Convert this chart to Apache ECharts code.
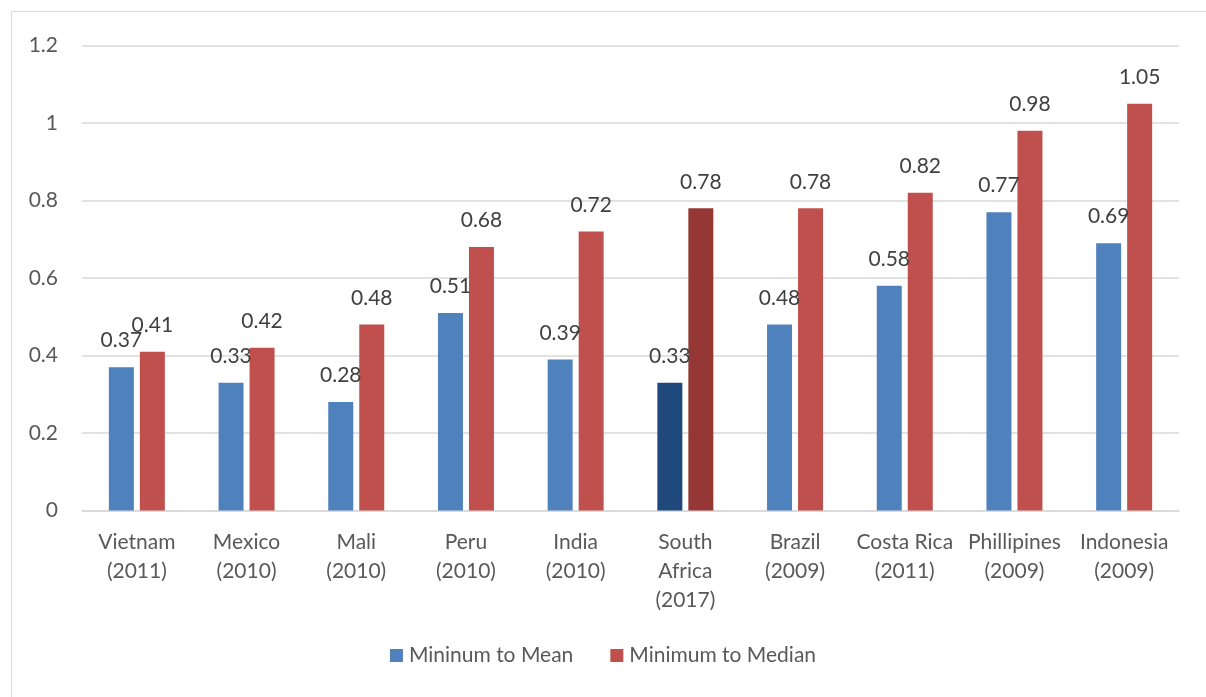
<!DOCTYPE html>
<html>
<head>
<meta charset="utf-8">
<script src="https://cdn.jsdelivr.net/npm/echarts@6/dist/echarts.min.js"></script>
<style>
  html, body { margin: 0; padding: 0; background: #fff; }
  #chart { width: 1206px; height: 697px; }
</style>
</head>
<body>
<div id="chart"></div>
<script>
// Countries (survey year) along the x axis
const categories = [
  'Vietnam\n(2011)', 'Mexico\n(2010)', 'Mali\n(2010)', 'Peru\n(2010)', 'India\n(2010)',
  'South\nAfrica\n(2017)', 'Brazil\n(2009)', 'Costa Rica\n(2011)', 'Phillipines\n(2009)', 'Indonesia\n(2009)'
];
// Ratio of the minimum wage to the mean wage
const minToMean = [0.37, 0.33, 0.28, 0.51, 0.39, 0.33, 0.48, 0.58, 0.77, 0.69];
// Ratio of the minimum wage to the median wage
const minToMedian = [0.41, 0.42, 0.48, 0.68, 0.72, 0.78, 0.78, 0.82, 0.98, 1.05];
// Value axis ticks
const yTicks = [0, 0.2, 0.4, 0.6, 0.8, 1, 1.2];

const seriesNames = ['Mininum to Mean', 'Minimum to Median'];
const highlightIndex = 5; // South Africa is drawn in darker shades

const FONT = 'Lato';
const FONT_SIZE = 21;
const TEXT = '#595959';

function withHighlight(values, darkColor) {
  return values.map((v, i) => i === highlightIndex
    ? { value: v, itemStyle: { color: darkColor } }
    : v);
}

const chart = echarts.init(document.getElementById('chart'), null, { renderer: 'canvas' });

const labelStyle = {
  show: true,
  position: 'top',
  distance: 16,
  color: '#404040',
  fontFamily: FONT,
  fontSize: FONT_SIZE,
  formatter: p => String(p.value)
};

chart.setOption({
  animation: false,
  backgroundColor: '#fff',
  graphic: [{
    type: 'rect',
    shape: { x: 11.5, y: 11.5, width: 1220, height: 700 },
    style: { fill: 'none', stroke: '#d9d9d9', lineWidth: 1 },
    silent: true
  }],
  grid: { left: 82, right: 27, top: 45.5, bottom: 186.5, containLabel: false },
  legend: {
    bottom: 26,
    left: 'center',
    itemWidth: 13,
    itemHeight: 13,
    itemGap: 37,
    icon: 'rect',
    textStyle: { color: TEXT, fontFamily: FONT, fontSize: FONT_SIZE, padding: [0, 0, 0, 1] },
    data: seriesNames
  },
  xAxis: {
    type: 'category',
    data: categories,
    axisLine: { show: true, lineStyle: { color: '#d9d9d9', width: 1.5 } },
    axisTick: { show: false },
    axisLabel: {
      color: TEXT,
      fontFamily: FONT,
      fontSize: FONT_SIZE,
      lineHeight: 29,
      margin: 17,
      interval: 0
    }
  },
  yAxis: {
    type: 'value',
    min: yTicks[0],
    max: yTicks[yTicks.length - 1],
    interval: yTicks[1] - yTicks[0],
    axisLine: { show: false },
    axisTick: { show: false },
    splitLine: { lineStyle: { color: '#d9d9d9', width: 1.5 } },
    axisLabel: {
      color: TEXT,
      fontFamily: FONT,
      fontSize: FONT_SIZE,
      margin: 24,
      formatter: v => String(Math.round(v * 10) / 10)
    }
  },
  series: [
    {
      name: seriesNames[0],
      type: 'bar',
      data: withHighlight(minToMean, '#1F497D'),
      itemStyle: { color: '#4F81BD' },
      barWidth: 25,
      barGap: '24%',
      label: labelStyle
    },
    {
      name: seriesNames[1],
      type: 'bar',
      data: withHighlight(minToMedian, '#953735'),
      itemStyle: { color: '#C0504D' },
      barWidth: 25,
      label: labelStyle
    }
  ]
});
</script>
</body>
</html>
